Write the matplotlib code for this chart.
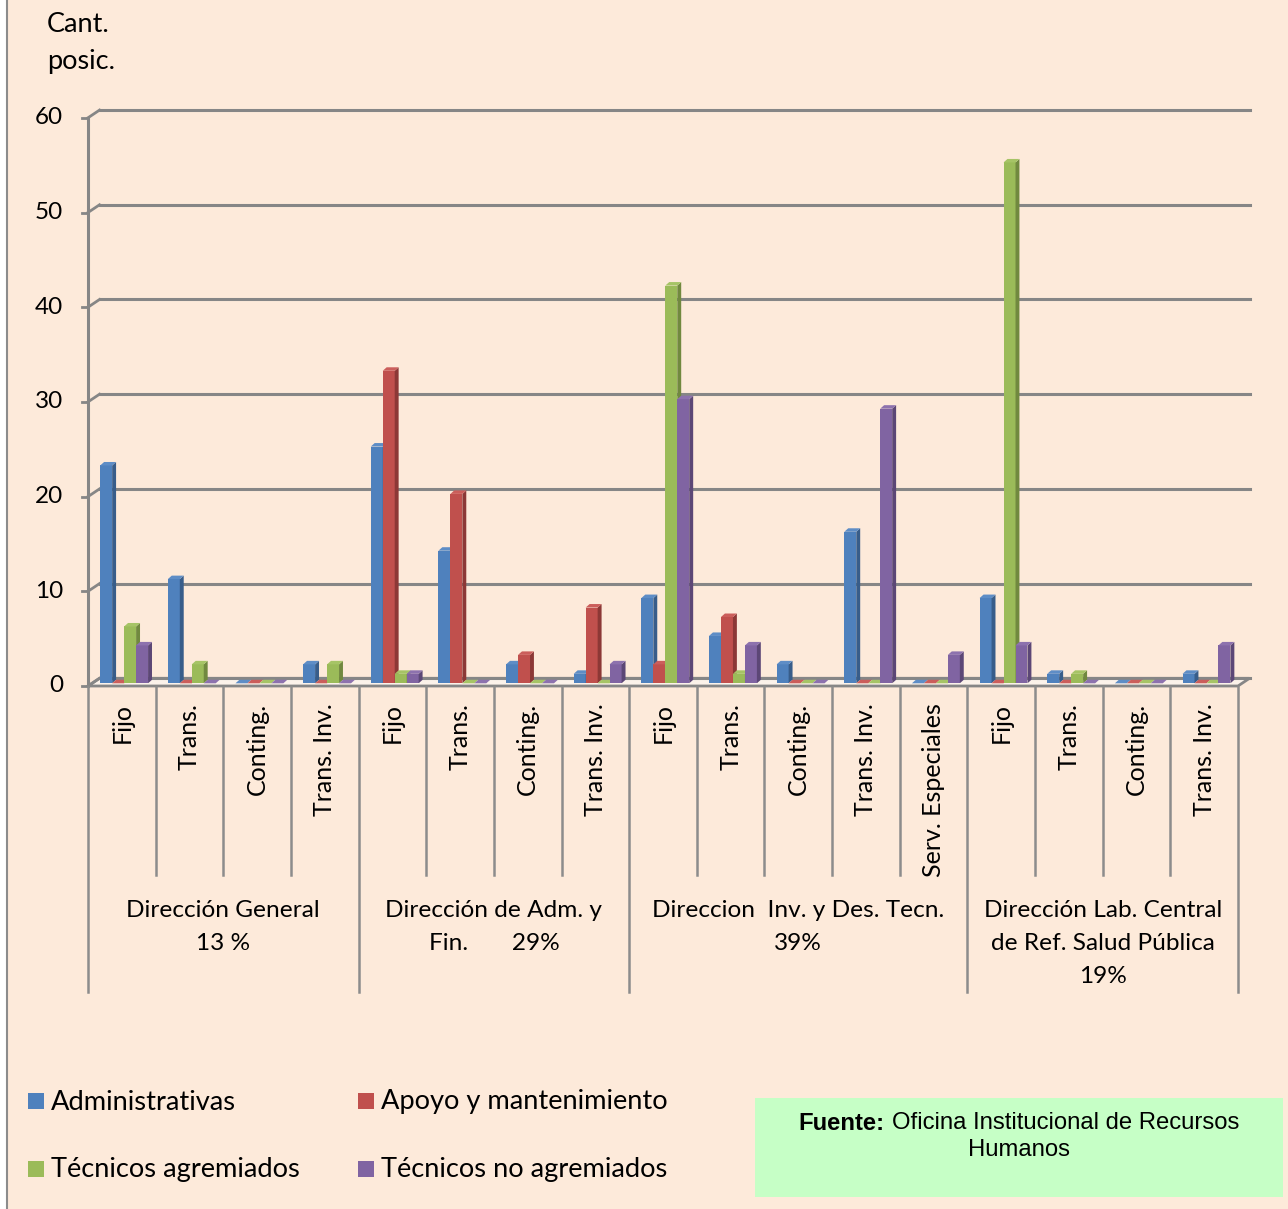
import numpy as np
import matplotlib
matplotlib.use('Agg')
import matplotlib.pyplot as plt
import matplotlib.transforms as mtransforms
from matplotlib.patches import Polygon, Rectangle
from matplotlib.lines import Line2D

# Datos del gráfico
categorias = ['Fijo', 'Trans.', 'Conting.', 'Trans. Inv.',
              'Fijo', 'Trans.', 'Conting.', 'Trans. Inv.',
              'Fijo', 'Trans.', 'Conting.', 'Trans. Inv.', 'Serv. Especiales',
              'Fijo', 'Trans.', 'Conting.', 'Trans. Inv.']
administrativas = [23, 11, 0, 2, 25, 14, 2, 1, 9, 5, 2, 16, 0, 9, 1, 0, 1]
apoyo = [0, 0, 0, 0, 33, 20, 3, 8, 2, 7, 0, 0, 0, 0, 0, 0, 0]
tec_agremiados = [6, 2, 0, 2, 1, 0, 0, 0, 42, 1, 0, 0, 0, 55, 1, 0, 0]
tec_no_agremiados = [4, 0, 0, 0, 1, 0, 0, 2, 30, 4, 0, 29, 3, 4, 0, 0, 4]
series = ['Administrativas', 'Apoyo y mantenimiento', 'Técnicos agremiados', 'Técnicos no agremiados']
grupos = ['Dirección General\n13 %', 'Dirección de Adm. y\nFin.       29%',
          'Direccion  Inv. y Des. Tecn.\n39%',
          'Dirección Lab. Central\nde Ref. Salud Pública\n19%']
limites = [0, 4, 8, 13, 17]
yticks = [0, 10, 20, 30, 40, 50, 60]

# colores (frente, lado, tapa)
colores = [('#4F81BD', '#385D8A', '#5E8DC6'),
           ('#C0504D', '#8C3836', '#CB5E5B'),
           ('#9BBB59', '#71893F', '#A6C466'),
           ('#8064A2', '#5C4776', '#8D72AE')]

W, H = 1288, 1209
FONT = 'Lato'
gris = '#868686'
fondo = '#FDEADA'

fig = plt.figure(figsize=(W / 100, H / 100), dpi=100, facecolor='white')
# pixel (origen arriba-izquierda) -> display
pix = mtransforms.Affine2D().scale(1, -1).translate(0, H)
ident = mtransforms.IdentityTransform()

fig.patches.append(Rectangle((7, 0), W - 7, H, transform=pix, facecolor=fondo,
                             edgecolor='none', zorder=-5))
fig.lines.append(Line2D([7, 7], [0, H], transform=pix, color='#8C8C8C', lw=1.5))

# ejes en el plano de las barras
n = len(categorias)
x_izq, x_der = 88, 1238
y0, esc = 683.3, 9.47
ax = fig.add_axes([x_izq / W, (H - y0) / H, (x_der - x_izq) / W, esc * 60 / H])
ax.set_xlim(0, n)
ax.set_ylim(0, 60)
ax.axis('off')

atras = mtransforms.offset_copy(ax.transData, fig=fig, x=11.5, y=5.0, units='dots')
frente = mtransforms.offset_copy(ax.transData, fig=fig, x=0, y=-2.7, units='dots')

def linea_disp(p, q, **kw):
    ax.add_line(Line2D([p[0], q[0]], [p[1], q[1]], transform=ident, clip_on=False, **kw))

# piso
esquinas = [frente.transform((0, 0)), frente.transform((n, 0)),
            atras.transform((n, 0)), atras.transform((0, 0))]
ax.add_patch(Polygon(esquinas, closed=True, transform=ident, clip_on=False,
                     facecolor='#FBF2EA', edgecolor=gris, lw=2, zorder=1))

# líneas de división y eje vertical
for v in yticks:
    ax.plot([0, n], [v, v], transform=atras, color=gris, lw=2.2, zorder=1, clip_on=False)
    pf = frente.transform((0, v))
    pb = atras.transform((0, v))
    linea_disp(pf, pb, color=gris, lw=2, zorder=1)
    linea_disp((pf[0] - 6, pf[1]), pf, color=gris, lw=2, zorder=1)
    ax.text(pf[0] - 25, pf[1], str(v), transform=ident,
            ha='right', va='center', fontsize=17.5, family=FONT, color='black')
linea_disp(frente.transform((0, 0)), frente.transform((0, 60)), color=gris, lw=2.2, zorder=2)

# barras con efecto 3D
w = 0.177
dx, dy = 0.058, 0.37
xs = np.arange(n)
for k, vals in enumerate([administrativas, apoyo, tec_agremiados, tec_no_agremiados]):
    cf, cl, ct = colores[k]
    x0 = xs + 0.18 + k * w
    z = 3 + k
    ax.bar(x0, vals, width=w, align='edge', color=cf, edgecolor='none', zorder=z)
    for xi, v in zip(x0, vals):
        lado = [(xi + w, 0), (xi + w + dx, dy), (xi + w + dx, v + dy), (xi + w, v)]
        tapa = [(xi, v), (xi + w, v), (xi + w + dx, v + dy), (xi + dx, v + dy)]
        ax.add_patch(Polygon(lado, closed=True, facecolor=cl, edgecolor='none', zorder=z))
        ax.add_patch(Polygon(tapa, closed=True, facecolor=ct, edgecolor='none', zorder=z,
                             clip_on=False))

# etiquetas de categorías
xpix = mtransforms.blended_transform_factory(ax.transData, pix)
for i, c in enumerate(categorias):
    ax.text(i + 0.5, 703, c, transform=xpix, rotation=90, ha='center', va='top',
            fontsize=18, family=FONT, color='black')
for i in range(n + 1):
    fin = 992 if i in limites else 875
    ax.plot([i, i], [687, fin], transform=xpix, color='#8C8C8C', lw=1.8, clip_on=False)
for g, texto in enumerate(grupos):
    xc = (limites[g] + limites[g + 1]) / 2
    ax.text(xc, 900, texto, transform=xpix, ha='center', va='top', fontsize=17.6,
            family=FONT, color='black', linespacing=1.72)

# título del eje
fig.text(47, 12, 'Cant.\nposic.', transform=pix, ha='left', va='top', fontsize=19.5,
         family=FONT, color='black', linespacing=1.6)

# leyenda
pos_leyenda = [(28, 1101), (358, 1101), (28, 1169), (358, 1169)]
for k, (nombre, (lx, ly)) in enumerate(zip(series, pos_leyenda)):
    fig.patches.append(Rectangle((lx, ly - 8), 16, 16, transform=pix,
                                 facecolor=colores[k][0], edgecolor='none'))
    fig.text(lx + 23, ly + 1, nombre, transform=pix, ha='left', va='center',
             fontsize=19.6, family=FONT, color='black')

# recuadro de fuente
fig.patches.append(Rectangle((755, 1098), 528, 99, transform=pix,
                             facecolor='#C6FFC6', edgecolor='none'))
fig.text(885, 1123, 'Fuente:', transform=pix, ha='right', va='center', fontsize=17.2,
         family='Liberation Sans', fontweight='bold', color='black')
fig.text(892, 1123, 'Oficina Institucional de Recursos', transform=pix, ha='left',
         va='center', fontsize=17.2, family='Liberation Sans', color='black')
fig.text(1019, 1150, 'Humanos', transform=pix, ha='center', va='center', fontsize=17.2,
         family='Liberation Sans', color='black')

fig.savefig('out.png', dpi=100, facecolor='white')
